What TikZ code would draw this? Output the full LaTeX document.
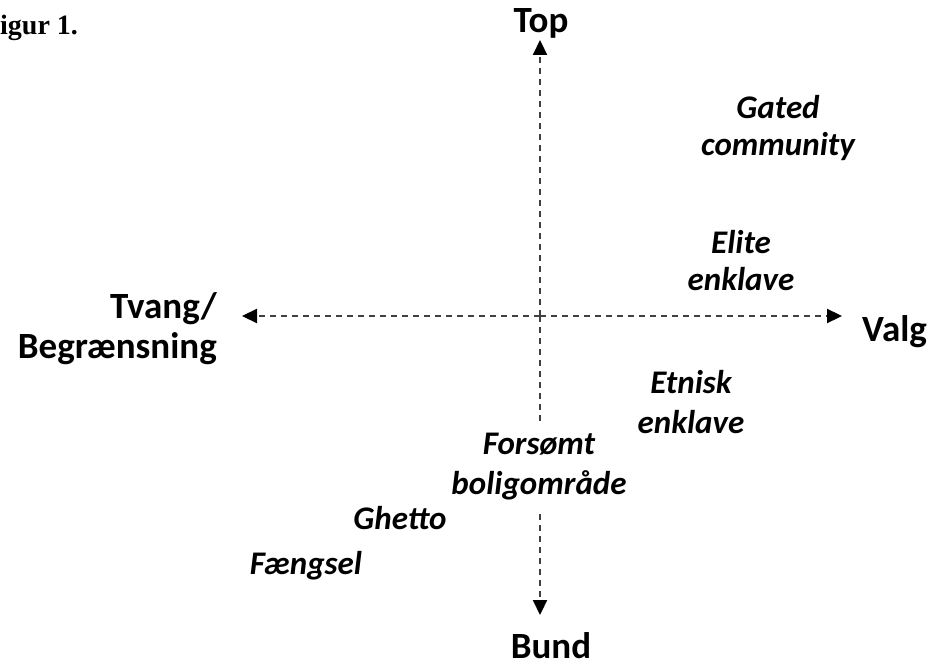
\documentclass[tikz,border=0pt]{standalone}
\usepackage{fontspec}
\newfontfamily\calfont{Carlito}
\newfontfamily\serfont{Liberation Serif}
\usetikzlibrary{positioning,arrows.meta}

\begin{document}
\begin{tikzpicture}[
		x=1pt,y=1pt,
		axis/.style={draw=black!75,line width=2.2pt,dash pattern=on 6pt off 5pt,
			-{Triangle[length=15pt,width=14pt,color=black]}},
		pole/.style={font=\calfont\bfseries\fontsize{37}{40}\selectfont,inner sep=0pt},
		area/.style={font=\calfont\bfseries\itshape\fontsize{33}{37}\selectfont,inner sep=0pt,align=center},
		wide/.style={font=\calfont\bfseries\itshape\fontsize{33}{40}\selectfont}
		]
		\useasboundingbox (0,0) rectangle (933,-668);
		\coordinate (o) at (540,-316);
		\coordinate (n) at (540,-40);
		\coordinate (s) at (540,-615);
		\coordinate (w) at (242,-316);
		\coordinate (e) at (842,-316);
		\path
		(o) edge[axis] (n)
		(o) edge[axis] (s)
		(o) edge[axis] (w)
		(o) edge[axis] (e);
		\node[anchor=base west,inner sep=0pt,font=\serfont\bfseries\fontsize{28}{32}\selectfont] (fig) at (0,-35) {igur 1.};
		\node[pole,anchor=base] (top) at (541,-33) {Top};
		\node[pole,anchor=base] (bund) at (551,-658) {Bund};
		\node[pole,anchor=base west] (valg) at (862,-341) {Valg};
		\node[pole,anchor=east,align=right] (tvang) at (217,-329) {Tvang/\\Begrænsning};
		\node[area] (gated) at (778,-128) {Gated\\community};
		\node[area] (elite) at (741,-261) {Elite\\enklave};
		\node[area,wide] (etnisk) at (691,-402) {Etnisk\\enklave};
		\node[area,wide,fill=white,inner ysep=12pt] (forsomt) at (539,-467) {Forsømt\\boligområde};
		\node[area] (ghetto) at (400,-518) {Ghetto};
		\node[area] (faengsel) at (306,-566) {Fængsel};
	\end{tikzpicture}
\end{document}
